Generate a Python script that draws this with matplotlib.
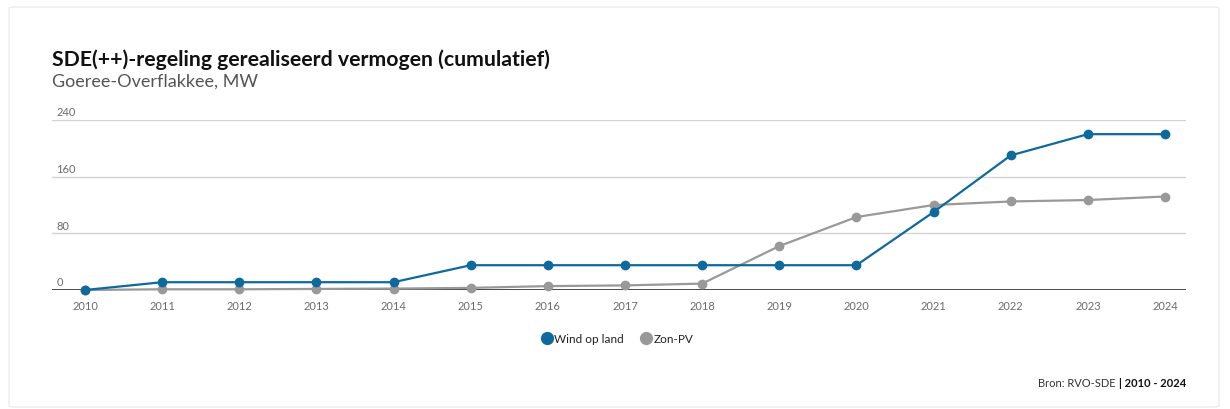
import matplotlib
matplotlib.use("Agg")
import matplotlib.pyplot as plt
from matplotlib.lines import Line2D
from matplotlib.patches import FancyBboxPatch

plt.rcParams['font.family'] = ['Lato', 'DejaVu Sans']

# Cumulative realised capacity (MW) per year
years = [2010, 2011, 2012, 2013, 2014, 2015, 2016, 2017, 2018, 2019, 2020, 2021, 2022, 2023, 2024]
wind_op_land = [0, 11, 11, 11, 11, 35, 35, 35, 35, 35, 35, 110, 190, 220, 220]
zon_pv = [0, 1, 1, 1.5, 2, 3, 5.5, 6.5, 9, 62, 103, 120, 125, 127, 132]
y_ticks = [0, 80, 160, 240]
series_names = ["Wind op land", "Zon-PV"]

WIND_COLOR = "#0e6a9c"
PV_COLOR = "#999999"
TICK_COLOR = "#6b6b6b"

W, H = 1230, 410
fig = plt.figure(figsize=(W / 100, H / 100), dpi=100)
fig.patch.set_facecolor("white")

# light card outline
card = FancyBboxPatch((9 / W, 2 / H), (1219 / W) - (9 / W), (402 - 2) / H,
                      boxstyle="round,pad=0,rounding_size=0.004",
                      transform=fig.transFigure, facecolor="none",
                      edgecolor="#ececec", linewidth=1.0, zorder=-5)
fig.patches.append(card)

left, right = 52 / W, 1186 / W
bottom, top = 1 - 291 / H, 1 - 121 / H
ax = fig.add_axes([left, bottom, right - left, top - bottom])
ax.set_facecolor("none")
ax.set_zorder(2)

x0 = 2010 - 33 / 77.14
x1 = 2024 + 21 / 77.14
ax.set_xlim(x0, x1)
ax.set_ylim(0, 240)

for s in ax.spines.values():
    s.set_visible(False)
ax.tick_params(left=False, bottom=False, labelleft=False, labelbottom=False)

# gridlines and baseline
for yt in y_ticks:
    if yt == 0:
        ax.axhline(yt, color="#3a3a3a", lw=1.3, zorder=1)
    else:
        ax.axhline(yt, color="#d4d4d4", lw=1.0, zorder=1)
    ax.annotate(str(yt), xy=(0, yt), xycoords=("axes fraction", "data"),
                xytext=(3, 2), textcoords="offset points",
                ha="left", va="bottom", fontsize=8, color=TICK_COLOR)

for yr in years:
    ax.annotate(str(yr), xy=(yr, 0), xycoords="data",
                xytext=(0, -11), textcoords="offset points",
                ha="center", va="center", fontsize=8, color=TICK_COLOR)

ax.plot(years, zon_pv, color=PV_COLOR, lw=1.6, marker="o", ms=6,
        clip_on=False, zorder=3)
ax.plot(years, wind_op_land, color=WIND_COLOR, lw=1.6, marker="o", ms=6,
        clip_on=False, zorder=4)

# titles
fig.text(52 / W, 1 - 60 / H, "SDE(++)-regeling gerealiseerd vermogen (cumulatief)",
         fontsize=15.3, fontweight="bold", color="#111111", ha="left", va="center")
fig.text(52 / W, 1 - 82 / H, "Goeree-Overflakkee, MW",
         fontsize=13, color="#555555", ha="left", va="center")

# legend
handles = [Line2D([], [], color=c, marker="o", linestyle="none", markersize=8.5)
           for c in (WIND_COLOR, PV_COLOR)]
fig.legend(handles, series_names, loc="center", bbox_to_anchor=(617 / W, 1 - 340 / H),
           ncol=2, frameon=False, fontsize=8.5, handletextpad=0.1,
           columnspacing=1.4, handlelength=1.0, labelcolor="#222222")

# source line: regular part placed left of bold part
renderer = fig.canvas.get_renderer()
bold = fig.text(1186 / W, 1 - 384 / H, "| 2010 - 2024", fontsize=8, fontweight="bold",
                color="#111111", ha="right", va="center")
bb = bold.get_window_extent(renderer)
fig.text(bb.x0 / W - 3 / W, 1 - 384 / H, "Bron: RVO-SDE", fontsize=8,
         color="#333333", ha="right", va="center")

fig.savefig("out.png", dpi=100, facecolor="white")
